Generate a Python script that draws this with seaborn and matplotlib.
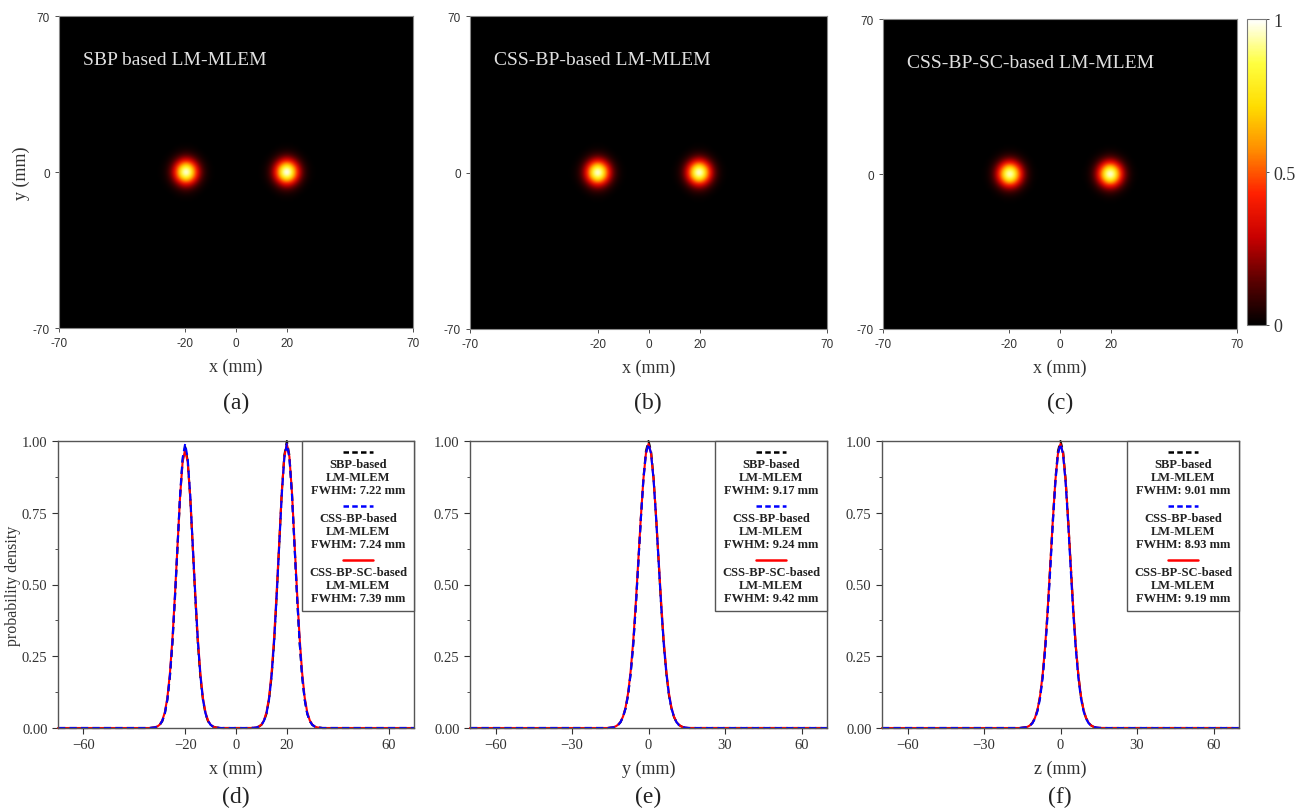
import numpy as np
import pandas as pd
import matplotlib
matplotlib.use("Agg")
import matplotlib.pyplot as plt
import seaborn as sns
from matplotlib.offsetbox import DrawingArea, TextArea, VPacker, AnchoredOffsetbox
from matplotlib.lines import Line2D
from matplotlib.ticker import MultipleLocator
from matplotlib.colors import LinearSegmentedColormap

# ---------------- data ----------------
METHODS = ["SBP", "CSS-BP", "CSS-BP-SC"]
IMG_TITLES = ["SBP based LM-MLEM", "CSS-BP-based LM-MLEM", "CSS-BP-SC-based LM-MLEM"]
LEGEND_NAMES = ["SBP-based\nLM-MLEM", "CSS-BP-based\nLM-MLEM", "CSS-BP-SC-based\nLM-MLEM"]
FWHM_X = [7.22, 7.24, 7.39]
FWHM_Y = [9.17, 9.24, 9.42]
FWHM_Z = [9.01, 8.93, 9.19]

PEAKS_X = [-20, 20]
PEAKS_Y = [0]
PEAKS_Z = [0]

SBP_X_HEIGHTS = [0.98, 1.00]
CSSBP_X_HEIGHTS = [0.99, 0.99]
SC_X_HEIGHTS = [0.97, 0.99]
SBP_Y_HEIGHTS = [1.00]
CSSBP_Y_HEIGHTS = [0.99]
SC_Y_HEIGHTS = [0.99]
SBP_Z_HEIGHTS = [1.00]
CSSBP_Z_HEIGHTS = [0.99]
SC_Z_HEIGHTS = [0.99]

# half profiles: values at 0, 1, 2, ... mm from the peak centre
SBP_X_HALF = [1.00, 0.95, 0.82, 0.64, 0.46, 0.30, 0.18, 0.10, 0.05, 0.024, 0.011, 0.005, 0.002, 0.001, 0.0]
CSSBP_X_HALF = [1.00, 0.95, 0.82, 0.645, 0.465, 0.305, 0.183, 0.10, 0.051, 0.025, 0.011, 0.005, 0.002, 0.001, 0.0]
SC_X_HALF = [1.00, 0.955, 0.83, 0.655, 0.48, 0.32, 0.195, 0.108, 0.056, 0.027, 0.012, 0.005, 0.002, 0.001, 0.0]

SBP_Y_HALF = [1.00, 0.965, 0.87, 0.73, 0.575, 0.42, 0.29, 0.19, 0.115, 0.068, 0.038, 0.02, 0.01, 0.005, 0.002, 0.001, 0.0]
CSSBP_Y_HALF = [1.00, 0.966, 0.872, 0.735, 0.58, 0.425, 0.293, 0.192, 0.117, 0.069, 0.039, 0.02, 0.01, 0.005, 0.002, 0.001, 0.0]
SC_Y_HALF = [1.00, 0.967, 0.876, 0.742, 0.59, 0.438, 0.305, 0.20, 0.123, 0.072, 0.04, 0.021, 0.011, 0.005, 0.002, 0.001, 0.0]

SBP_Z_HALF = [1.00, 0.965, 0.868, 0.726, 0.567, 0.413, 0.283, 0.183, 0.11, 0.063, 0.035, 0.018, 0.009, 0.004, 0.002, 0.001, 0.0]
CSSBP_Z_HALF = [1.00, 0.964, 0.864, 0.72, 0.558, 0.404, 0.275, 0.176, 0.105, 0.06, 0.033, 0.017, 0.008, 0.004, 0.002, 0.001, 0.0]
SC_Z_HALF = [1.00, 0.966, 0.872, 0.733, 0.576, 0.422, 0.29, 0.188, 0.114, 0.066, 0.036, 0.019, 0.009, 0.004, 0.002, 0.001, 0.0]

X_TICKS_IMG = [-70, -20, 0, 20, 70]
Y_TICKS_IMG = [-70, 0, 70]
X_TICKS_D = [-60, -20, 0, 20, 60]
X_TICKS_EF = [-60, -30, 0, 30, 60]
Y_TICKS_PROF = [0.0, 0.25, 0.5, 0.75, 1.0]
CBAR_TICKS = [0, 0.5, 1]
CAPTIONS = ["(a)", "(b)", "(c)", "(d)", "(e)", "(f)"]

COLORS = ["black", "#0000ff", "#ff0000"]
CMAP_COLORS = ["#000000", "#5a0000", "#c80000", "#ff2000", "#ff8c00", "#ffdc00", "#ffff40", "#ffffff"]

# ---------------- helpers ----------------
GRID = np.arange(-70, 71)


def build_profile(peaks, heights, half):
    prof = np.zeros(GRID.size)
    for c, h in zip(peaks, heights):
        for k, v in enumerate(half):
            for s in (c - k, c + k):
                idx = s + 70
                if 0 <= idx < GRID.size:
                    prof[idx] = max(prof[idx], h * v)
    return prof


X_PROFS = [build_profile(PEAKS_X, SBP_X_HEIGHTS, SBP_X_HALF),
           build_profile(PEAKS_X, CSSBP_X_HEIGHTS, CSSBP_X_HALF),
           build_profile(PEAKS_X, SC_X_HEIGHTS, SC_X_HALF)]
Y_PROFS = [build_profile(PEAKS_Y, SBP_Y_HEIGHTS, SBP_Y_HALF),
           build_profile(PEAKS_Y, CSSBP_Y_HEIGHTS, CSSBP_Y_HALF),
           build_profile(PEAKS_Y, SC_Y_HEIGHTS, SC_Y_HALF)]
Z_PROFS = [build_profile(PEAKS_Z, SBP_Z_HEIGHTS, SBP_Z_HALF),
           build_profile(PEAKS_Z, CSSBP_Z_HEIGHTS, CSSBP_Z_HALF),
           build_profile(PEAKS_Z, SC_Z_HEIGHTS, SC_Z_HALF)]

# ---------------- figure ----------------
sns.set_theme(style="ticks")
plt.rcParams["font.family"] = ["Liberation Serif", "DejaVu Serif"]
plt.rcParams["axes.unicode_minus"] = True

W, H = 1303, 812
fig = plt.figure(figsize=(W / 100, H / 100), dpi=100)
fig.patch.set_facecolor("white")


def rect(l, t, r, b):
    return [l / W, 1 - b / H, (r - l) / W, (b - t) / H]


SPINE_C = "#555555"
TICK_C = "#333333"
cmap = LinearSegmentedColormap.from_list("hotblack", CMAP_COLORS)

top_rects = [rect(59, 17, 413, 329), rect(470, 17, 827, 330), rect(883, 20, 1237, 330)]
bot_rects = [rect(58, 442, 414, 729), rect(470, 442, 827, 729), rect(882, 442, 1239, 729)]

# top image panels
im = None
for i, r in enumerate(top_rects):
    ax = fig.add_axes(r)
    img = np.outer(Y_PROFS[i], X_PROFS[i])
    im = ax.imshow(img, origin="lower", extent=[-70, 70, -70, 70], cmap=cmap,
                   vmin=0, vmax=1, aspect="auto", interpolation="bicubic")
    ax.set_xlim(-70, 70)
    ax.set_ylim(-70, 70)
    ax.set_xticks(X_TICKS_IMG)
    ax.set_yticks(Y_TICKS_IMG)
    ax.set_xticklabels([str(t) for t in X_TICKS_IMG], family="Liberation Sans")
    ax.set_yticklabels([str(t) for t in Y_TICKS_IMG], family="Liberation Sans")
    ax.tick_params(labelsize=8.5, colors=TICK_C, length=3, width=0.6, direction="out")
    for sp in ax.spines.values():
        sp.set_color("#888888")
        sp.set_linewidth(0.8)
    ax.set_xlabel("x (mm)", fontsize=13, color="#333333", labelpad=6)
    if i == 0:
        ax.set_ylabel("y (mm)", fontsize=13, color="#333333", labelpad=2)
    ax.text(0.068, 0.86, IMG_TITLES[i], transform=ax.transAxes, color="#e0e0e0",
            fontsize=14, ha="left", va="center")
    ax.grid(False)

# colorbar
cax = fig.add_axes(rect(1247, 20, 1266, 326))
cb = fig.colorbar(im, cax=cax, ticks=CBAR_TICKS)
cb.ax.set_yticklabels(["0", "0.5", "1"])
cb.ax.tick_params(labelsize=13, colors=TICK_C, length=2, width=0.6)
cb.outline.set_edgecolor("#777777")
cb.outline.set_linewidth(0.8)

# bottom profile panels
prof_sets = [X_PROFS, Y_PROFS, Z_PROFS]
fwhm_sets = [FWHM_X, FWHM_Y, FWHM_Z]
xlabels = ["x (mm)", "y (mm)", "z (mm)"]
xticks_sets = [X_TICKS_D, X_TICKS_EF, X_TICKS_EF]

draw_order = [0, 2, 1]  # black, red, blue on top
styles = {0: (0, (3.5, 2.0)), 1: (0, (3.5, 2.0)), 2: "-"}
leg_styles = {0: (0, (2.2, 1.3)), 1: (0, (2.2, 1.3)), 2: "-"}

for j, r in enumerate(bot_rects):
    ax = fig.add_axes(r)
    frames = []
    for m in draw_order:
        frames.append(pd.DataFrame({"pos": GRID, "density": prof_sets[j][m],
                                    "method": METHODS[m]}))
    df = pd.concat(frames, ignore_index=True)
    for m in draw_order:
        sub = df[df["method"] == METHODS[m]]
        sns.lineplot(data=sub, x="pos", y="density", ax=ax, color=COLORS[m],
                     linewidth=1.5, linestyle=styles[m], legend=False, clip_on=False)
    ax.set_xlim(-70, 70)
    ax.set_ylim(0, 1.0)
    ax.set_xticks(xticks_sets[j])
    ax.set_yticks(Y_TICKS_PROF)
    ax.yaxis.set_minor_locator(MultipleLocator(0.125))
    ax.set_yticklabels(["0.00", "0.25", "0.50", "0.75", "1.00"])
    ax.tick_params(axis="both", which="major", labelsize=10.5, colors=TICK_C,
                   length=4, width=0.8, direction="out")
    ax.tick_params(axis="y", which="minor", length=2.5, width=0.6, color=TICK_C)
    for sp in ax.spines.values():
        sp.set_color(SPINE_C)
        sp.set_linewidth(1.0)
    ax.set_xlabel(xlabels[j], fontsize=13, color="#333333", labelpad=6)
    if j == 0:
        ax.set_ylabel("probability density", fontsize=11.5, color="#333333", labelpad=1)
    else:
        ax.set_ylabel("")

    # legend box: line above centred text
    children = []
    for m in range(3):
        da = DrawingArea(22, 6, 0, 0)
        da.add_artist(Line2D([0, 22], [3, 3], color=COLORS[m], linestyle=leg_styles[m],
                             linewidth=1.8))
        txt = LEGEND_NAMES[m] + "\nFWHM: %.2f mm" % fwhm_sets[j][m]
        ta = TextArea(txt, textprops=dict(fontsize=9, fontweight="bold",
                                          color="#222222", multialignment="center",
                                          linespacing=1.15))
        children.append(VPacker(children=[da, ta], align="center", pad=0, sep=1))
    box = VPacker(children=children, align="center", pad=0, sep=4)
    ab = AnchoredOffsetbox(loc="upper right", child=box, pad=0.45, borderpad=0,
                           frameon=True)
    ab.patch.set_edgecolor(SPINE_C)
    ab.patch.set_linewidth(1.0)
    ab.patch.set_boxstyle("square", pad=0)
    ax.add_artist(ab)

# captions
cap_pos = [(236, 403), (648, 403), (1060, 403), (236, 797), (648, 797), (1060, 797)]
for (cx, cy), cap in zip(cap_pos, CAPTIONS):
    fig.text(cx / W, 1 - cy / H, cap, ha="center", va="center", fontsize=17, color="#222222")

fig.savefig("out.png", dpi=100, facecolor="white")
